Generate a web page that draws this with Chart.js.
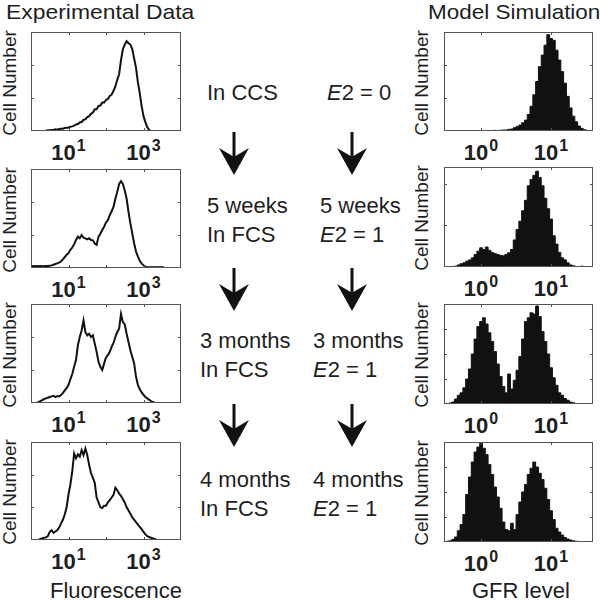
<!DOCTYPE html>
<html>
<head>
<meta charset="utf-8">
<script src="https://cdn.jsdelivr.net/npm/chart.js@4.4.1/dist/chart.umd.min.js"></script>
<style>
html,body{margin:0;padding:0;background:#fff;}
#fig{position:relative;width:600px;height:600px;overflow:hidden;font-family:"Liberation Sans",Arial,Helvetica,sans-serif;color:#1e1e1e;background:#fff;}
#fig canvas{position:absolute;}
.txt{position:absolute;white-space:nowrap;}
.mid{font-size:22px;line-height:22px;}
.title{font-size:21px;line-height:21px;transform-origin:0 0;}
.xlab{font-size:22px;line-height:22px;}
.ylab{font-size:19px;line-height:19px;transform:translate(-50%,-50%) rotate(-90deg);}
.tick{font-size:22px;line-height:22px;font-weight:bold;transform:translateX(-50%);}
.tick sup{font-size:16px;line-height:0;vertical-align:baseline;position:relative;top:-9px;margin-left:1px;}
#fig svg{position:absolute;left:0;top:0;}
</style>
</head>
<body>
<div id="fig"></div>
<script>
// ---- categories: histogram bins (log10 units) ----
const LEFT_BINS = [0.00,0.05,0.10,0.15,0.20,0.25,0.30,0.35,0.40,0.45,0.50,0.55,0.60,0.65,0.70,0.75,0.80,0.85,0.90,0.95,1.00,1.05,1.10,1.15,1.20,1.25,1.30,1.35,1.40,1.45,1.50,1.55,1.60,1.65,1.70,1.75,1.80,1.85,1.90,1.95,2.00,2.05,2.10,2.15,2.20,2.25,2.30,2.35,2.40,2.45,2.50,2.55,2.60,2.65,2.70,2.75,2.80,2.85,2.90,2.95,3.00,3.05,3.10,3.15,3.20,3.25,3.30,3.35,3.40,3.45,3.50,3.55,3.60];
const RIGHT_BINS = [-0.52,-0.48,-0.44,-0.40,-0.36,-0.32,-0.28,-0.24,-0.20,-0.16,-0.12,-0.08,-0.04,0.00,0.04,0.08,0.12,0.16,0.20,0.24,0.28,0.32,0.36,0.40,0.44,0.48,0.52,0.56,0.60,0.64,0.68,0.72,0.76,0.80,0.84,0.88,0.92,0.96,1.00,1.04,1.08,1.12,1.16,1.20,1.24,1.28,1.32,1.36,1.40,1.44,1.48,1.52,1.56];

// ---- experimental data (cell number, Fluorescence) ----
const EXP_CCS = [null,null,null,null,null,null,null,
 0,0.01,0.02,0.02,0.03,0.03,0.05,0.04,0.06,0.07,0.07,0.09,0.10,0.10,0.13,0.14,0.16,0.20,0.21,0.26,0.27,0.34,0.35,0.42,0.45,0.52,0.56,0.66,0.66,0.76,0.77,0.86,0.86,0.94,0.97,1.06,1.10,1.22,1.35,1.55,1.72,2.15,2.48,2.62,2.72,2.66,2.62,2.48,2.20,1.92,1.48,1.15,0.76,0.45,0.27,0.12,0.03,0,0,0,0,0,0,
 null,null,null];
const EXP_5W = [0.05,0.06,0.05,0.06,0.05,0.06,0.05,0.05,0.06,0.06,0.07,0.08,0.10,0.12,0.14,0.16,0.20,0.26,0.33,0.40,0.45,0.55,0.62,0.72,0.85,0.95,0.90,1.00,0.92,0.90,0.87,0.90,0.85,0.84,0.74,0.70,0.95,1.04,1.15,1.25,1.38,1.45,1.60,1.72,1.85,2.10,2.30,2.55,2.63,2.55,2.35,2.10,1.70,1.35,1.05,0.75,0.50,0.35,0.22,0.14,0.08,0.04,0.02,0.02,0.02,0.02,0.02,0.02,0.02,0.02,0.02,0.02,null];
const EXP_3M = [null,null,null,
 0,0.03,0.06,0.09,0.12,0.14,0.16,0.18,0.20,0.22,0.18,0.21,0.20,0.24,0.30,0.38,0.45,0.55,0.72,0.88,1.10,1.30,1.75,2.00,2.20,2.50,2.15,2.05,2.10,2.00,2.05,1.80,1.55,1.25,1.10,1.00,1.20,1.38,1.45,1.55,1.70,1.82,2.00,2.15,2.25,2.70,2.45,2.38,2.10,1.85,1.60,1.40,1.20,0.80,0.55,0.42,0.32,0.25,0.18,0.14,0.10,0.06,0.03,0.01,0,
 null,null,null,null,null];
const EXP_4M = [null,null,null,null,
 0,0.03,0.05,0.07,0.08,0.12,0.25,0.30,0.22,0.26,0.30,0.38,0.50,0.62,0.78,1.00,1.40,1.70,2.10,2.65,2.50,2.62,2.55,2.75,2.60,2.80,2.60,2.30,2.05,1.90,1.75,1.30,1.15,1.00,0.98,1.05,1.05,1.15,1.22,1.30,1.38,1.60,1.52,1.42,1.35,1.25,1.15,1.00,0.90,0.80,0.70,0.62,0.55,0.47,0.40,0.33,0.25,0.17,0.12,0.09,0.07,0.05,0.03,0.01,0,
 null,null,null,null];

// ---- model simulation (cell number, GFR level) ----
const SIM_E0 = [null,null,null,null,null,null,null,null,null,null,null,null,null,null,null,null,
 0.01,0.01,0.02,0.01,0.02,0.03,0.03,0.05,0.06,0.10,0.14,0.18,0.25,0.33,0.50,0.75,1.10,1.50,1.95,2.30,2.60,2.92,2.80,2.75,2.45,2.15,1.80,1.45,1.05,0.70,0.45,0.28,0.15,0.08,0.04,0.02,
 null];
const SIM_5W = [null,null,null,
 0.01,0.02,0.05,0.08,0.10,0.14,0.17,0.22,0.30,0.38,0.46,0.42,0.48,0.40,0.35,0.32,0.30,0.28,0.27,0.30,0.34,0.42,0.65,0.90,1.10,1.35,1.60,1.95,2.10,2.20,2.30,2.15,1.95,1.65,1.40,1.15,0.75,0.55,0.35,0.22,0.17,0.10,0.05,0.03,0.01,0.01,0.02,0,
 null,null];
const SIM_3M = [0.01,0.02,0.04,0.08,0.20,0.35,0.45,0.65,1.00,1.40,2.00,2.60,3.10,3.30,3.45,3.20,2.85,2.50,2.10,1.60,1.10,0.70,0.45,1.20,0.60,0.95,1.35,1.90,2.60,3.30,3.45,3.65,3.60,3.92,3.50,2.90,2.50,2.00,1.45,1.05,0.75,0.45,0.35,0.22,0.15,0.08,0.05,0.02,0.01,0,
 null,null,null];
const SIM_4M = [0.02,0.03,0.05,0.10,0.20,0.45,0.70,1.10,1.90,2.60,3.20,3.60,3.80,4.00,3.75,3.50,3.10,2.70,2.20,1.80,1.35,0.80,0.50,0.45,0.75,0.50,1.10,1.60,2.00,2.30,2.70,2.95,3.20,3.00,2.75,2.50,2.15,1.70,1.25,0.90,0.55,0.40,0.28,0.18,0.12,0.08,0.05,0.03,0.02,0.01,
 null,null,null];

// ---- tick values (log10 exponents) ----
const LEFT_TICKS = [1,2,3];
const LEFT_TICK_LABELS = [1,3];
const RIGHT_TICKS = [0,1];
const RIGHT_TICK_LABELS = [0,1];

// ---- text ----
const TITLE_LEFT = 'Experimental Data';
const TITLE_RIGHT = 'Model Simulation';
const XLABEL_LEFT = 'Fluorescence';
const XLABEL_RIGHT = 'GFR level';
const YLABEL = 'Cell Number';
const LEFT_STEPS = [['In CCS'],['5 weeks','In FCS'],['3 months','In FCS'],['4 months','In FCS']];
const RIGHT_STEPS = [['<i>E</i>2 = 0'],['5 weeks','<i>E</i>2 = 1'],['3 months','<i>E</i>2 = 1'],['4 months','<i>E</i>2 = 1']];

// ---- layout ----
const PANELS = [
 {counts:EXP_CCS, bins:LEFT_BINS, box:[31,32,181,131], xr:[0,4], ymax:3, yt:[1,2], side:'L'},
 {counts:EXP_5W,  bins:LEFT_BINS, box:[31,169,181,268], xr:[0,4], ymax:3, yt:[1,2], side:'L'},
 {counts:EXP_3M,  bins:LEFT_BINS, box:[31,304,181,403], xr:[0,4], ymax:3, yt:[1,2], side:'L'},
 {counts:EXP_4M,  bins:LEFT_BINS, box:[31,442,181,540], xr:[0,4], ymax:3, yt:[1,2], side:'L'},
 {counts:SIM_E0,  bins:RIGHT_BINS, box:[444,32,593,131], xr:[-0.53,1.6], ymax:3, yt:[1,2], side:'R'},
 {counts:SIM_5W,  bins:RIGHT_BINS, box:[444,167,593,267], xr:[-0.53,1.6], ymax:2.4, yt:[1,2], side:'R'},
 {counts:SIM_3M,  bins:RIGHT_BINS, box:[444,304,593,404], xr:[-0.53,1.6], ymax:4, yt:[1,2,3], side:'R'},
 {counts:SIM_4M,  bins:RIGHT_BINS, box:[444,442,593,542], xr:[-0.53,1.6], ymax:4, yt:[1,2,3], side:'R'}
];

const fig = document.getElementById('fig');
function addDiv(cls, html, left, top, style){
  const d=document.createElement('div');
  d.className='txt '+cls; d.innerHTML=html;
  d.style.left=left+'px'; d.style.top=top+'px';
  if(style) Object.assign(d.style, style);
  fig.appendChild(d); return d;
}

const framePlugin = {
  id:'frame',
  afterDatasetsDraw(chart, args, opts){
    const ctx=chart.ctx, a=chart.chartArea, x=chart.scales.x, y=chart.scales.y;
    ctx.save();
    ctx.strokeStyle=opts.color; ctx.lineWidth=1;
    ctx.beginPath();
    (opts.xt||[]).forEach(v=>{
      const px=Math.round(x.getPixelForValue(v))+0.5;
      ctx.moveTo(px,a.bottom); ctx.lineTo(px,a.bottom-opts.len);
      ctx.moveTo(px,a.top); ctx.lineTo(px,a.top+opts.len);
    });
    (opts.yt||[]).forEach(v=>{
      const py=Math.round(y.getPixelForValue(v))+0.5;
      ctx.moveTo(a.left,py); ctx.lineTo(a.left+opts.len,py);
      ctx.moveTo(a.right,py); ctx.lineTo(a.right-opts.len,py);
    });
    ctx.stroke();
    ctx.strokeRect(a.left+0.5,a.top+0.5,a.width-1,a.height-1);
    ctx.restore();
  }
};

PANELS.forEach(p=>{
  const [x0,y0,x1,y1]=p.box;
  const W=x1-x0+2, H=y1-y0+2;
  const c=document.createElement('canvas');
  c.width=W; c.height=H;
  c.style.left=(x0-1)+'px'; c.style.top=(y0-1)+'px';
  c.style.width=W+'px'; c.style.height=H+'px';
  fig.appendChild(c);
  const pts=p.bins.map((b,i)=>({x:b,y:p.counts[i]}));
  const isL=p.side==='L';
  const chart=new Chart(c,{
    type:'line',
    data:{datasets:[{
      data:pts, stepped:isL?false:'middle', spanGaps:false,
      borderColor:'#111', borderWidth:isL?2:1, borderJoinStyle:'miter',
      backgroundColor:'#111', fill:isL?false:'origin',
      pointRadius:0, tension:0
    }]},
    options:{
      responsive:false, animation:false, events:[], devicePixelRatio:1,
      layout:{padding:1},
      plugins:{legend:{display:false}, tooltip:{enabled:false},
        frame:{color:'#555', len:3, xt:isL?LEFT_TICKS:RIGHT_TICKS, yt:p.yt}},
      scales:{
        x:{type:'linear', min:p.xr[0], max:p.xr[1], display:false},
        y:{type:'linear', min:0, max:p.ymax, display:false}
      }
    },
    plugins:[framePlugin]
  });
  (isL?LEFT_TICK_LABELS:RIGHT_TICK_LABELS).forEach(e=>{
    const px=(x0-1)+chart.scales.x.getPixelForValue(e);
    addDiv('tick','10<sup>'+e+'</sup>',px,y1+11);
  });
  addDiv('ylab',YLABEL,isL?9:421,(y0+y1)/2+1);
});

// titles & axis labels
addDiv('title',TITLE_LEFT,6,1,{transform:'scaleX(1.09)'});
addDiv('title',TITLE_RIGHT,428,1,{transform:'scaleX(1.07)'});
addDiv('xlab',XLABEL_LEFT,50,580);
addDiv('xlab',XLABEL_RIGHT,472,580);

// step texts
const ROW_TOP=[82,195,330,469];
const LEFT_X=[207,207,200,200];
const RIGHT_X=[327,320,313,313];
ROW_TOP.forEach((t,i)=>{
  LEFT_STEPS[i].forEach((s,j)=>addDiv('mid',s,LEFT_X[i],t+j*29));
  RIGHT_STEPS[i].forEach((s,j)=>addDiv('mid',s,RIGHT_X[i],t+j*29));
});

// arrows
const ARROW_TOP=[132,268,404];
const ARROW_X=[234,352];
const NS='http://www.w3.org/2000/svg';
const svg=document.createElementNS(NS,'svg');
svg.setAttribute('width','600'); svg.setAttribute('height','600');
ARROW_TOP.forEach(y0=>ARROW_X.forEach(cx=>{
  const path=document.createElementNS(NS,'path');
  path.setAttribute('d',`M${cx-1.5},${y0} L${cx+1.5},${y0} L${cx+1.5},${y0+24} L${cx+15},${y0+16} L${cx},${y0+43} L${cx-15},${y0+16} L${cx-1.5},${y0+24} Z`);
  path.setAttribute('fill','#111');
  svg.appendChild(path);
}));
fig.appendChild(svg);
</script>
</body>
</html>
